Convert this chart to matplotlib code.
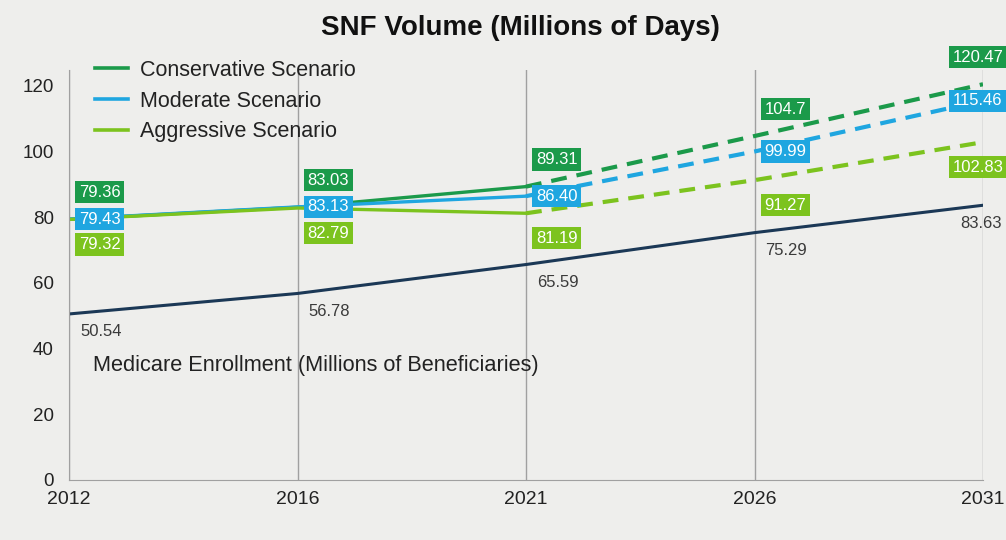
import matplotlib
matplotlib.use("Agg")
import matplotlib.pyplot as plt
from matplotlib.lines import Line2D

years = ["2012", "2016", "2021", "2026", "2031"]
conservative = [79.36, 83.03, 89.31, 104.7, 120.47]
moderate = [79.43, 83.13, 86.40, 99.99, 115.46]
aggressive = [79.32, 82.79, 81.19, 91.27, 102.83]
medicare = [50.54, 56.78, 65.59, 75.29, 83.63]

cons_lbl = ["79.36", "83.03", "89.31", "104.7", "120.47"]
mod_lbl = ["79.43", "83.13", "86.40", "99.99", "115.46"]
agg_lbl = ["79.32", "82.79", "81.19", "91.27", "102.83"]
med_lbl = ["50.54", "56.78", "65.59", "75.29", "83.63"]

c_cons = "#1b9a4a"
c_mod = "#1fa6e0"
c_agg = "#7cc31e"
c_med = "#1b3856"

plt.rcParams["font.family"] = ["Liberation Sans", "DejaVu Sans"]

fig = plt.figure(figsize=(10.06, 5.40), dpi=100, facecolor="#eeeeec")
ax = fig.add_axes([69 / 1006, 60 / 540, 914 / 1006, 410 / 540])
ax.set_facecolor("none")

x = list(range(len(years)))
split = 2  # 2021: actual -> projected

for vals, col in [(conservative, c_cons), (moderate, c_mod), (aggressive, c_agg)]:
    ax.plot(x[:split + 1], vals[:split + 1], color=col, lw=2.4, solid_capstyle="round")
    ax.plot(x[split:], vals[split:], color=col, lw=3, dashes=(3.8, 2.4))
ax.plot(x, medicare, color=c_med, lw=2.2)

def box_labels(vals, texts, col, dy):
    for i, (v, t) in enumerate(zip(vals, texts)):
        dx = 10 if i < len(vals) - 1 else -30
        ax.annotate(t, (x[i], v), xytext=(dx, dy), textcoords="offset pixels",
                    ha="left", va="center", color="white", fontsize=12,
                    bbox=dict(boxstyle="square,pad=0.22", fc=col, ec="none"),
                    annotation_clip=False, zorder=5)

box_labels(conservative, cons_lbl, c_cons, 27)
box_labels(moderate, mod_lbl, c_mod, 0)
box_labels(aggressive, agg_lbl, c_agg, -25)

for i, (v, t) in enumerate(zip(medicare, med_lbl)):
    dx = 11 if i < len(medicare) - 1 else -23
    ax.annotate(t, (x[i], v), xytext=(dx, -18), textcoords="offset pixels",
                ha="left", va="center", color="#3a3a3a", fontsize=12,
                annotation_clip=False)

ax.text(24 / 914, 115 / 410, "Medicare Enrollment (Millions of Beneficiaries)",
        transform=ax.transAxes, fontsize=15.7, color="#222222", va="center")

ax.set_xlim(0, 4)
ax.set_ylim(0, 124.8)
ax.set_xticks(x)
ax.set_xticklabels(years)
ax.set_yticks([0, 20, 40, 60, 80, 100, 120])
ax.tick_params(axis="both", length=0, labelsize=13.5, labelcolor="#222222")
ax.tick_params(axis="x", pad=8, labelsize=14)
ax.tick_params(axis="y", pad=11)
ax.grid(axis="x", color="#a0a0a0", lw=1)
for s in ["top", "right"]:
    ax.spines[s].set_visible(False)
for s in ["left", "bottom"]:
    ax.spines[s].set_color("#a0a0a0")

handles = [Line2D([], [], color=c, lw=2.6) for c in (c_cons, c_mod, c_agg)]
fig.legend(handles, ["Conservative Scenario", "Moderate Scenario", "Aggressive Scenario"],
           loc="upper left", bbox_to_anchor=(95 / 1006, 1 - 60 / 540), frameon=False,
           fontsize=15.5, borderpad=0, borderaxespad=0, handlelength=1.55,
           handletextpad=0.56, labelspacing=0.45, labelcolor="#222222")

fig.text(520 / 1006, 1 - 28 / 540, "SNF Volume (Millions of Days)",
         ha="center", va="center", fontsize=20, fontweight="bold", color="#111111")

fig.savefig("out.png", dpi=100, facecolor=fig.get_facecolor())
